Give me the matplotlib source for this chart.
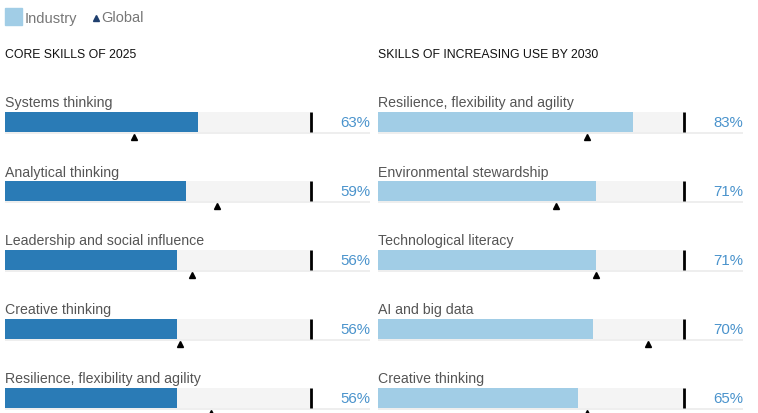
import matplotlib
matplotlib.use("Agg")
import matplotlib.pyplot as plt

plt.rcParams['font.family'] = ['Liberation Sans', 'DejaVu Sans']

# ---- data ----
left_title = "CORE SKILLS OF 2025"
left_skills = ["Systems thinking", "Analytical thinking", "Leadership and social influence",
               "Creative thinking", "Resilience, flexibility and agility"]
left_industry = [63, 59, 56, 56, 56]
left_global = [42, 69, 61, 57, 67]

right_title = "SKILLS OF INCREASING USE BY 2030"
right_skills = ["Resilience, flexibility and agility", "Environmental stewardship",
                "Technological literacy", "AI and big data", "Creative thinking"]
right_industry = [83, 71, 71, 70, 65]
right_global = [68, 58, 71, 88, 68]

legend_labels = ["Industry", "Global"]

W, H = 758, 414
fig = plt.figure(figsize=(W / 100, H / 100), dpi=100)

ROW = 69.0        # px per row
Y0 = 123.0        # px from top of first bar centre
BAR_H = 20 / ROW
PX_PER_PCT = 3.07


def panel(x0_px, skills, industry, glob, bar_color):
    width_px = 365
    ax = fig.add_axes([x0_px / W, 0, width_px / W, 1])
    xmax = width_px / PX_PER_PCT
    ax.set_xlim(0, xmax)
    ax.set_ylim((H - Y0) / ROW, -Y0 / ROW)
    ax.axis('off')
    for i, (s, v, g) in enumerate(zip(skills, industry, glob)):
        ax.barh(i, 99.6, height=BAR_H, color='#f4f4f4', left=0, zorder=1)
        ax.plot([0, xmax], [i + BAR_H / 2 + 1.0 / ROW] * 2, color='#eeeeee', lw=1.4,
                zorder=1, solid_capstyle='butt')
        ax.barh(i, v, height=BAR_H, color=bar_color, zorder=2)
        ax.plot([99.6, 99.6], [i - BAR_H / 2, i + BAR_H / 2], color='black', lw=2,
                zorder=3, solid_capstyle='butt')
        ax.plot(g, i + BAR_H / 2 + 5 / ROW, marker='^', color='black', ms=5,
                zorder=4, clip_on=False)
        ax.text(0, i - BAR_H / 2 - 5.5 / ROW, s, fontsize=10.2, color='#555555',
                va='baseline', ha='left')
        ax.text(xmax, i, f"{v}%", fontsize=10.8, color='#4a93cc',
                va='center', ha='right')
    return ax


panel(5, left_skills, left_industry, left_global, '#2a7bb6')
panel(378, right_skills, right_industry, right_global, '#a1cde6')

fig.text(5 / W, 1 - 58 / H, left_title, fontsize=8.8, color='#111111', va='baseline')
fig.text(378 / W, 1 - 58 / H, right_title, fontsize=8.8, color='#111111', va='baseline')

# legend
fig.patches.append(plt.Rectangle((5 / W, 1 - 26 / H), 17 / W, 17 / H,
                                 transform=fig.transFigure, color='#a1cde6'))
fig.text(25 / W, 1 - 22.5 / H, legend_labels[0], fontsize=10.5, color='#777777', va='baseline')
fig.lines.append(plt.Line2D([96 / W], [1 - 18.5 / H], marker='^', color='#1f3f6e', ms=4,
                            transform=fig.transFigure))
fig.text(101 / W, 1 - 22.5 / H, legend_labels[1], fontsize=10.5, color='#777777', va='baseline')

fig.savefig("out.png", dpi=100)
